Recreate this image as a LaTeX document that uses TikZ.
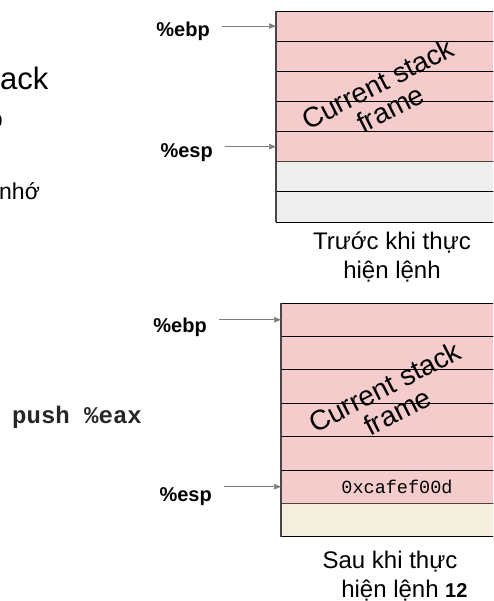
\documentclass[tikz,border=0pt]{standalone}
\usepackage{fontspec}
\setmainfont{Liberation Sans}
\setmonofont{Liberation Mono}
\usetikzlibrary{arrows.meta,positioning}
\definecolor{FramePink}{HTML}{F4CCCC}
\definecolor{FreeGray}{HTML}{EEEEEE}
\definecolor{NewCream}{HTML}{F2F0DD}
\definecolor{Pointer}{HTML}{7F7F7F}
\definecolor{Edge}{HTML}{4A4444}

\begin{document}
\begin{tikzpicture}[
  x=1pt,y=-1pt,
  node distance=0pt,
  cell/.style 2 args={draw=black,line width=0.8pt,fill=#1,minimum width=232pt,minimum height=#2,inner sep=0pt,outer sep=0pt},
  reg/.style={font=\fontsize{20}{20}\selectfont\bfseries,inner sep=0pt,anchor=east},
  ptr/.style={-{Triangle[length=7pt,width=5.5pt]},color=Pointer,line width=0.7pt,shorten <=12pt},
  caption/.style={font=\fontsize{24}{29}\selectfont,align=center,inner sep=0pt},
  frametext/.style={font=\fontsize{28}{28}\selectfont,align=center,rotate=27,inner sep=0pt}
]
\clip[use as bounding box] (0,0) rectangle (493,601);

% text cut off at the left side
\node[anchor=base west,inner sep=0pt,font=\fontsize{31}{31}\selectfont] (stk) at (0,90) {ack};
\node[anchor=base east,inner sep=0pt,font=\fontsize{24}{24}\selectfont] (pfrag) at (3,128) {p};
\node[anchor=base west,inner sep=0pt,font=\fontsize{23}{23}\selectfont] (mem) at (-1,200) {nhớ};

% stack before the push
\node[cell={FramePink}{30.15pt},anchor=north west] (t1) at (276,11) {};
\foreach \a/\b/\c in {t1/t2/FramePink,t2/t3/FramePink,t3/t4/FramePink,t4/t5/FramePink,t5/t6/FreeGray,t6/t7/FreeGray}
  {\node[cell={\c}{30.15pt},below=of \a] (\b) {};}
\draw[Edge,line width=1.6pt] (t1.north west) -- (t7.south west);
\draw[Edge,line width=1.3pt] (t5.south west) -- (t5.south east);
\node[frametext] (cur1) at (384,96) {Current stack\\frame};
\node[reg] (ebp1) at (210,31) {\%ebp};
\node[reg] (esp1) at (213,153) {\%esp};
\draw[ptr] (ebp1.east |- t1.west) -- (t1.west);
\draw[ptr] (esp1.east |- t5.west) -- (t5.west);
\node[caption,below=10pt of t7] (cap1) {Trước khi thực\\hiện lệnh};

% the instruction
\node[anchor=west,inner sep=0pt,font=\ttfamily\bfseries\fontsize{24}{24}\selectfont,text=black!85] (push) at (12,417) {push \%eax};

% stack after the push
\node[cell={FramePink}{33.4pt},anchor=north west] (b1) at (281,303) {};
\foreach \a/\b in {b1/b2,b2/b3,b3/b4,b4/b5}
  {\node[cell={FramePink}{33.4pt},below=of \a] (\b) {};}
\node[cell={FramePink}{33.4pt},below=of b5,font=\ttfamily\fontsize{18.5}{18.5}\selectfont] (b6) {0xcafef00d};
\node[cell={NewCream}{33.4pt},below=of b6] (b7) {};
\draw[Edge,line width=1.6pt] (b1.north west) -- (b7.south west);
\draw[Edge,line width=1.3pt] (b6.south west) -- (b6.south east);
\node[frametext] (cur2) at (391,399) {Current stack\\frame};
\node[reg] (ebp2) at (207,327) {\%ebp};
\node[reg] (esp2) at (212,497) {\%esp};
\draw[ptr] (ebp2.east |- b1.west) -- (b1.west);
\draw[ptr] (esp2.east |- b6.west) -- (b6.west);
\node[caption,below=14pt of b7,xshift=-7pt] (cap2) {Sau khi thực\\hiện lệnh};

\node[anchor=base west,inner sep=0pt,font=\bfseries\fontsize{20}{20}\selectfont] (page) at (445,597) {12};
\end{tikzpicture}
\end{document}
